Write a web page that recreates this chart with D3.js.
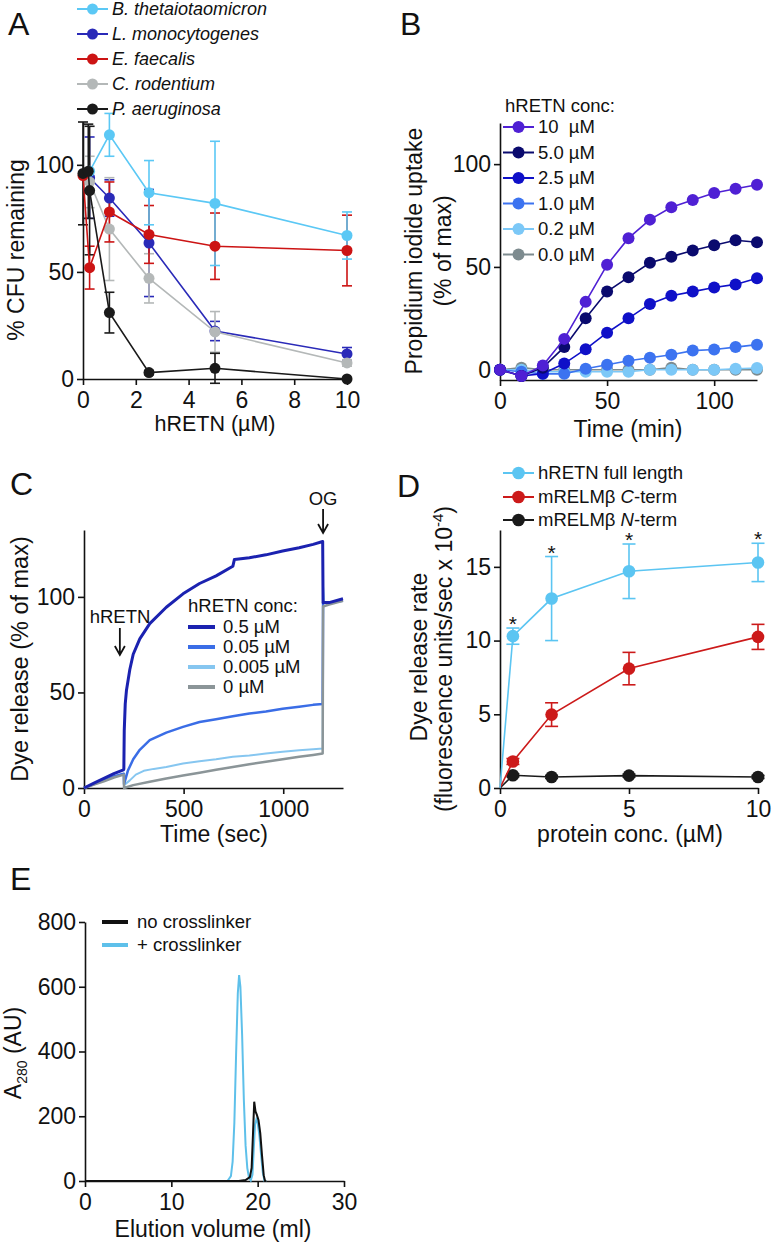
<!DOCTYPE html>
<html><head><meta charset="utf-8">
<script src="https://cdn.jsdelivr.net/npm/d3@7"></script>
<style>
body{margin:0;background:#fff;}
svg{display:block;font-family:"Liberation Sans",Arial,Helvetica,sans-serif;}
</style></head><body>
<svg id="fig" width="773" height="1244"></svg>
<script>
// ---------- Panel A data ----------
const aNames = ["B. thetaiotaomicron","L. monocytogenes","E. faecalis","C. rodentium","P. aeruginosa"];
const aColors = ["#5bc8f5","#2a2ab8","#cc1414","#b4b8b8","#1a1a1a"];
const btX = [0.25, 1, 2.5, 5, 10];
const btY = [97, 114, 87, 82, 67];
const btE = [0, 10, 15, 29, 11];
const lmX = [0.25, 1, 2.5, 5, 10];
const lmY = [94, 84.5, 63.5, 22.4, 11.7];
const lmE = [19, 8.5, 25, 4.5, 3];
const efX = [0, 0.25, 1, 2.5, 5, 10];
const efY = [95, 52, 78, 67.5, 62, 60];
const efE = [0, 10, 14, 13.5, 15.5, 16.5];
const crX = [0.25, 1, 2.5, 5, 10];
const crY = [92, 70, 47, 22, 7.5];
const crE = [12, 24, 11.5, 9.5, 1.5];
const paX = [0, 0.2, 0.25, 1, 2.5, 5, 10];
const paY = [96, 97, 88, 31, 3, 5, 0];
const paE = [24, 22, 30, 9.5, 1, 7, 0];
const aXTicks = [0, 2, 4, 6, 8, 10];
const aYTicks = [0, 50, 100];

// ---------- Panel B data ----------
const bTime = [0,10,20,30,40,50,60,70,80,90,100,110,120];
const bLabels = ["10\u00a0\u00a0\u00b5M","5.0 \u00b5M","2.5 \u00b5M","1.0 \u00b5M","0.2 \u00b5M","0.0 \u00b5M"];
const bColors = ["#4f20d4","#0a0a6e","#0f10c8","#3c73f0","#7cc8f7","#7d8b8f"];
const b10 = [0,-3,2,15,33,51,64,73,79,82.5,86,88,90];
const b5 = [0,-3,1,11,25,38,45,52,55,58,60.5,63,62];
const b2p5 = [0,-3,-2,3,10,18,25,32,36,38,40,41.5,44.5];
const b1 = [0,-1,-2,-2,0.5,2.4,4.4,5.8,7.3,9.3,9.8,11,12.2];
const b0p2 = [0,0,-1,-1,-1,-1,-1,0,0,0,0,0.5,0.8];
const b0 = [0,1,0,0,0,0,0,0,1,0,0,0,0];
const bXTicks = [0, 50, 100];
const bYTicks = [0, 50, 100];

// ---------- Panel C data ----------
const cLabels = ["0.5 \u00b5M","0.05 \u00b5M","0.005 \u00b5M","0 \u00b5M"];
const cColors = ["#1b22b0","#3a6de6","#86c6f0","#8b9598"];
const c05T = [0,50,100,150,198,200,202,207,213,230,247,280,330,413,497,580,663,747,755,830,913,997,1080,1150,1198,1200,1230,1300];
const c05V = [0,2.5,5,7.5,9.5,10,30,44,51,62,70,78,86,94.6,101.6,107,111,116,119.6,120.5,122,124,125.7,127.5,129,97,97,99];
const c005T = [0,50,100,150,200,201,220,247,280,330,413,497,580,663,747,830,913,997,1080,1150,1198,1200,1230,1300];
const c005V = [0,2,4,6,7.5,2,9,15,20,25,29,32,34.5,36,37.5,39,40,41.5,42.5,43.5,44,97,97,98];
const c0005T = [0,50,100,150,200,201,230,260,300,350,413,497,580,663,747,830,913,997,1080,1150,1198,1200,1205,1230,1300];
const c0005V = [0,2,4,6,7.5,1.5,4,7,9,10,11,12.8,14,15,16.3,17,18,19,19.8,20.3,20.7,105,97,97,98];
const c0T = [0,50,100,150,200,201,247,330,413,497,580,663,747,830,913,997,1080,1150,1198,1200,1230,1300];
const c0V = [0,1.8,3.5,5.5,7,0,1.5,3.3,5,6.5,8,9.5,11,12.4,13.7,15,16.3,17.3,18,95,96,98];
const cXTicks = [0, 500, 1000];
const cYTicks = [0, 50, 100];

// ---------- Panel D data ----------
const dX = [0, 0.5, 2, 5, 10];
const dFull = [0, 10.3, 12.85, 14.7, 15.3];
const dFullE = [0, 0.55, 2.85, 1.85, 1.3];
const dC = [0, 1.8, 4.98, 8.1, 10.25];
const dCE = [0, 0.2, 0.8, 1.1, 0.85];
const dN = [0, 0.86, 0.75, 0.84, 0.75];
const dNE = [0, 0.1, 0.1, 0.1, 0.1];
const dStars = [0.5, 2, 5, 10];
const dColors = ["#5bc5f2","#cc1a1a","#1a1a1a"];
const dXTicks = [0, 5, 10];
const dYTicks = [0, 5, 10, 15];

// ---------- Panel E data ----------
const eNoX = [0,17.8,18.6,19.1,19.3,19.45,19.6,19.75,19.9,20.1,20.3,20.5,20.7,20.85,21.0];
const eNoY = [0,0,3,12,40,140,245,215,205,188,148,80,18,0,0];
const eXlX = [14.5,16.5,16.9,17.1,17.3,17.5,17.7,17.85,18.0,18.2,18.4,18.6,18.8,19.0,19.2,19.4,19.55,19.7,19.85,20.0,20.2,20.4,20.6,20.8,21.0];
const eXlY = [0,0,15,60,180,390,580,636,600,450,250,110,40,10,2,20,100,175,190,180,140,80,25,0,0];
const eColors = ["#111111","#5ec0ea"];
const eXTicks = [0, 10, 20, 30];
const eYTicks = [0, 200, 400, 600, 800];

// ================= drawing =================
const svg = d3.select("#fig");
svg.append("rect").attr("width",773).attr("height",1244).attr("fill","#fff");
const INK = "#111";
const TICKF = 23;

function axes(g, x, y, xt, yt, xAxisY, yAxisX) {
  const xa = g.append("g").attr("transform",`translate(0,${xAxisY})`)
    .call(d3.axisBottom(x).tickValues(xt).tickSize(6).tickSizeOuter(0).tickPadding(7).tickFormat(d3.format("d")));
  const ya = g.append("g").attr("transform",`translate(${yAxisX},0)`)
    .call(d3.axisLeft(y).tickValues(yt).tickSize(6).tickSizeOuter(0).tickPadding(3).tickFormat(d3.format("d")));
  [xa, ya].forEach(a => {
    a.selectAll("path,line").attr("stroke", INK).attr("stroke-width", 1.6);
    a.selectAll("text").attr("font-size", TICKF).attr("fill", INK).attr("font-family", null);
  });
}
function label(txt, x, y) {
  svg.append("text").attr("x",x).attr("y",y).attr("font-size",32).attr("fill",INK).text(txt);
}
function vtitle(lines, cx, cy, size) {
  lines.forEach(l => {
    svg.append("text").attr("transform",`translate(${l.x},${cy}) rotate(-90)`)
      .attr("text-anchor","middle").attr("font-size",size).attr("fill",INK).text(l.t);
  });
}
function errBars(g, xs, ys, es, x, y, color, cap, sw) {
  xs.forEach((xv,i) => {
    if (!es[i]) return;
    const cx = x(xv), y1 = y(ys[i]-es[i]), y2 = y(ys[i]+es[i]);
    g.append("line").attr("x1",cx).attr("x2",cx).attr("y1",y1).attr("y2",y2).attr("stroke",color).attr("stroke-width",sw);
    [y1,y2].forEach(yy => g.append("line").attr("x1",cx-cap).attr("x2",cx+cap).attr("y1",yy).attr("y2",yy).attr("stroke",color).attr("stroke-width",sw));
  });
}
function dotLine(g, xs, ys, x, y, color, r, sw, skipZero) {
  const pts = xs.map((v,i)=>[v,ys[i]]);
  g.append("path").attr("d", d3.line().x(d=>x(d[0])).y(d=>y(d[1]))(pts))
    .attr("fill","none").attr("stroke",color).attr("stroke-width",sw);
  g.selectAll(null).data(pts.filter(d=>!(skipZero && d[0]===0))).enter().append("circle")
    .attr("cx",d=>x(d[0])).attr("cy",d=>y(d[1])).attr("r",r).attr("fill",color);
}
function legendDot(g, x0, yc, color, txt, size, r, italicParts) {
  g.append("line").attr("x1",x0).attr("x2",x0+31).attr("y1",yc).attr("y2",yc).attr("stroke",color).attr("stroke-width",2);
  g.append("circle").attr("cx",x0+15.5).attr("cy",yc).attr("r",r).attr("fill",color);
  const t = g.append("text").attr("x",x0+35).attr("y",yc).attr("dy","0.35em").attr("font-size",size).attr("fill",INK);
  if (italicParts) italicParts.forEach(p => t.append("tspan").attr("font-style",p[1]?"italic":"normal").text(p[0]));
  else t.text(txt);
  return t;
}

// ---------------- Panel A ----------------
{
  const g = svg.append("g");
  const x = d3.scaleLinear().domain([0,10]).range([83,347]);
  const y = d3.scaleLinear().domain([0,120]).range([379,122]);
  axes(g, x, y, aXTicks, aYTicks, 379, 83);
  const series = [
    {x:lmX,y:lmY,e:lmE,c:aColors[1]},
    {x:crX,y:crY,e:crE,c:aColors[3]},
    {x:efX,y:efY,e:efE,c:aColors[2]},
    {x:btX,y:btY,e:btE,c:aColors[0]},
    {x:paX,y:paY,e:paE,c:aColors[4]}
  ];
  series.forEach(s => errBars(g, s.x, s.y, s.e, x, y, s.c, 5, 1.6));
  series.forEach(s => dotLine(g, s.x, s.y, x, y, s.c, 5.5, 1.6, false));
  aNames.forEach((n,i) => {
    const t = legendDot(g, 77, 9 + i*25, aColors[i], n, 18, 5.5);
    t.attr("font-style","italic");
  });
  svg.append("text").attr("x",215).attr("y",431).attr("text-anchor","middle").attr("font-size",21.5).attr("fill",INK).text("hRETN (\u00b5M)");
  vtitle([{x:24,t:"% CFU remaining"}], 0, 250, 23);
  label("A", 8, 35);
}

// ---------------- Panel B ----------------
{
  const g = svg.append("g");
  const x = d3.scaleLinear().domain([0,120]).range([500,757]);
  const y = d3.scaleLinear().domain([-5,120]).range([380,123]);
  axes(g, x, y, bXTicks, bYTicks, 380, 500);
  const vals = [b10,b5,b2p5,b1,b0p2,b0];
  for (let i = vals.length-1; i >= 0; i--) dotLine(g, bTime, vals[i], x, y, bColors[i], 6, 1.6, false);
  g.append("text").attr("x",505).attr("y",112).attr("font-size",18.5).attr("fill",INK).text("hRETN conc:");
  bLabels.forEach((l,i) => legendDot(g, 503, 127 + i*25.5, bColors[i], l, 18.5, 6));
  svg.append("text").attr("x",628).attr("y",437).attr("text-anchor","middle").attr("font-size",23).attr("fill",INK).text("Time (min)");
  vtitle([{x:422,t:"Propidium iodide uptake"},{x:451,t:"(% of max)"}], 0, 251, 23);
  label("B", 400, 35);
}

// ---------------- Panel C ----------------
{
  const g = svg.append("g");
  const x = d3.scaleLinear().domain([0,1300]).range([84,343]);
  const y = d3.scaleLinear().domain([0,135]).range([788,530]);
  axes(g, x, y, cXTicks, cYTicks, 788, 84);
  const tr = [[c0005T,c0005V,2],[c005T,c005V,2.5],[c0T,c0V,2.5],[c05T,c05V,3]];
  const cols = [cColors[2],cColors[1],cColors[3],cColors[0]];
  tr.forEach((s,k) => {
    const pts = s[0].map((t,i)=>[t,s[1][i]]);
    g.append("path").attr("d", d3.line().x(d=>x(d[0])).y(d=>y(d[1]))(pts))
      .attr("fill","none").attr("stroke",cols[k]).attr("stroke-width",s[2]).attr("stroke-linejoin","round");
  });
  g.append("text").attr("x",188).attr("y",612).attr("font-size",18.5).attr("fill",INK).text("hRETN conc:");
  cLabels.forEach((l,i) => {
    const yc = 627 + i*20;
    g.append("line").attr("x1",188).attr("x2",215).attr("y1",yc).attr("y2",yc).attr("stroke",cColors[i]).attr("stroke-width",4);
    g.append("text").attr("x",223).attr("y",yc).attr("dy","0.35em").attr("font-size",18.5).attr("fill",INK).text(l);
  });
  function arrow(cx, y1, y2) {
    g.append("path").attr("d",`M${cx},${y1}V${y2}M${cx-5},${y2-9}L${cx},${y2}L${cx+5},${y2-9}`)
      .attr("fill","none").attr("stroke",INK).attr("stroke-width",1.8);
  }
  g.append("text").attr("x",120).attr("y",623).attr("text-anchor","middle").attr("font-size",18.5).attr("fill",INK).text("hRETN");
  arrow(x(180), 628, 655);
  g.append("text").attr("x",x(1200)).attr("y",505).attr("text-anchor","middle").attr("font-size",18.5).attr("fill",INK).text("OG");
  arrow(x(1200), 509, 533);
  svg.append("text").attr("x",214).attr("y",842).attr("text-anchor","middle").attr("font-size",23).attr("fill",INK).text("Time (sec)");
  vtitle([{x:28,t:"Dye release (% of max)"}], 0, 659, 23.5);
  label("C", 10, 495);
}

// ---------------- Panel D ----------------
{
  const g = svg.append("g");
  const x = d3.scaleLinear().domain([0,10]).range([500,758]);
  const y = d3.scaleLinear().domain([0,17.5]).range([788,530]);
  axes(g, x, y, dXTicks, dYTicks, 788, 500);
  errBars(g, dX, dN, dNE, x, y, dColors[2], 6.5, 1.6);
  errBars(g, dX, dC, dCE, x, y, dColors[1], 6.5, 1.6);
  errBars(g, dX, dFull, dFullE, x, y, dColors[0], 6.5, 1.6);
  dotLine(g, dX, dN, x, y, dColors[2], 6.3, 1.6, true);
  dotLine(g, dX, dC, x, y, dColors[1], 6.3, 1.6, true);
  dotLine(g, dX, dFull, x, y, dColors[0], 6.3, 1.6, true);
  dStars.forEach(sx => {
    const i = dX.indexOf(sx);
    g.append("text").attr("x",x(sx)).attr("y",y(dFull[i]+dFullE[i])+3).attr("text-anchor","middle")
      .attr("font-size",21).attr("fill",INK).text("*");
  });
  legendDot(g, 503, 473, dColors[0], "hRETN full length", 18.5, 6.3);
  legendDot(g, 503, 497, dColors[1], null, 18.5, 6.3, [["mRELM\u03b2 ",false],["C",true],["-term",false]]);
  legendDot(g, 503, 520, dColors[2], null, 18.5, 6.3, [["mRELM\u03b2 ",false],["N",true],["-term",false]]);
  svg.append("text").attr("x",630).attr("y",842).attr("text-anchor","middle").attr("font-size",23).attr("fill",INK).text("protein conc. (\u00b5M)");
  svg.append("text").attr("transform","translate(427,657) rotate(-90)").attr("text-anchor","middle").attr("font-size",23).attr("fill",INK).text("Dye release rate");
  const t2 = svg.append("text").attr("transform","translate(452,659) rotate(-90)").attr("text-anchor","middle").attr("font-size",23).attr("fill",INK);
  t2.append("tspan").text("(fluorescence units/sec x 10");
  t2.append("tspan").attr("dy",-9).attr("font-size",15).text("-4");
  t2.append("tspan").attr("dy",9).text(")");
  label("D", 397, 497);
}

// ---------------- Panel E ----------------
{
  const g = svg.append("g");
  const x = d3.scaleLinear().domain([0,30]).range([85,344]);
  const y = d3.scaleLinear().domain([0,800]).range([1181,922]);
  axes(g, x, y, eXTicks, eYTicks, 1181, 85);
  const ln = d3.line().x(d=>x(d[0])).y(d=>y(d[1]));
  g.append("path").attr("d", ln(eXlX.map((v,i)=>[v,eXlY[i]]))).attr("fill","none").attr("stroke",eColors[1]).attr("stroke-width",2);
  g.append("path").attr("d", ln(eNoX.map((v,i)=>[v,eNoY[i]]))).attr("fill","none").attr("stroke",eColors[0]).attr("stroke-width",2);
  [["no crosslinker",eColors[0]],["+ crosslinker",eColors[1]]].forEach((d,i) => {
    const yc = 922 + i*23;
    g.append("line").attr("x1",102).attr("x2",128).attr("y1",yc).attr("y2",yc).attr("stroke",d[1]).attr("stroke-width",4);
    g.append("text").attr("x",137).attr("y",yc).attr("dy","0.35em").attr("font-size",18.5).attr("fill",INK).text(d[0]);
  });
  svg.append("text").attr("x",213).attr("y",1237).attr("text-anchor","middle").attr("font-size",23).attr("fill",INK).text("Elution volume (ml)");
  const t = svg.append("text").attr("transform","translate(21,1053) rotate(-90)").attr("text-anchor","middle").attr("font-size",23).attr("fill",INK);
  t.append("tspan").text("A");
  t.append("tspan").attr("dy",6).attr("font-size",14).text("280");
  t.append("tspan").attr("dy",-6).text(" (AU)");
  label("E", 10, 890);
}
</script>
</body></html>
